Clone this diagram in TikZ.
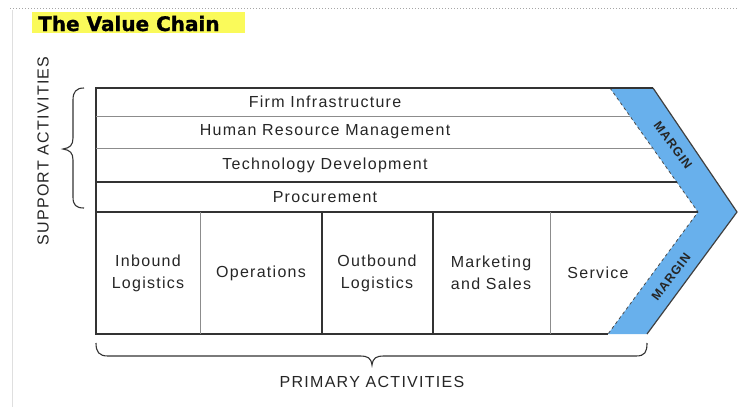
\documentclass[tikz,border=0pt]{standalone}
\usepackage{fontspec}
\setmainfont{Liberation Sans}
\newfontfamily\labfont{Liberation Sans}[LetterSpace=8]
\newfontfamily\titlefont{DejaVu Sans}[BoldFeatures={FakeBold=1}]
\definecolor{marginblue}{RGB}{104,176,236}
\definecolor{hilite}{RGB}{250,250,90}
\begin{document}
\begin{tikzpicture}[x=1pt,y=-1pt,
  lab/.style={font=\labfont\fontsize{16}{22}\selectfont, align=center, inner sep=0pt, text=black!85},
  strong/.style={draw=black!80, line width=1.3pt},
  weak/.style={draw=black!45, line width=0.8pt},
  margintext/.style={font=\labfont\bfseries\fontsize{12.5}{14}\selectfont, text=black!85, inner sep=0pt},
  bracestyle/.style={draw=black!80, line width=1.1pt}]
\useasboundingbox (0,0) rectangle (738,407);
\fill[white] (0,0) rectangle (738,407);
% page edges
\draw[gray!25, line width=0.8pt] (12,10) -- (12,407);
\draw[gray!70, dotted, line width=1pt] (10,8) -- (738,8);
% title
\fill[hilite] (32,12) rectangle (245,33);
\node[font=\titlefont\bfseries\fontsize{20}{24}\selectfont, anchor=base west, inner sep=0pt] (title) at (38,31) {The Value Chain};
% margin band
\fill[marginblue] (610,88) -- (653,88) -- (737,212) -- (647,334) -- (608,334) -- (698,212) -- cycle;
\draw[black!70, dashed, line width=0.8pt] (610,88) -- (698,212) -- (608,334);
\draw[black!75, line width=1.2pt] (653,88) -- (737,212) -- (647,334);
% frame
\draw[strong] (653,88) -- (96,88) -- (96,334) -- (608,334);
\draw[weak] (96,116) -- (629.9,116);
\draw[weak] (96,148) -- (652.6,148);
\draw[strong] (96,182) -- (676.7,182);
\draw[strong] (96,212) -- (698,212);
\draw[weak] (200,212) -- (200,334);
\draw[strong] (322,212) -- (322,334);
\draw[strong] (433,212) -- (433,334);
\draw[weak] (550,212) -- (550,334);
% support activities
\node[lab] (firm) at (325,102) {Firm Infrastructure};
\node[lab] (hrm) at (325,132) {Human Resource Management};
\node[lab] (tech) at (325,165) {Technology Development};
\node[lab] (proc) at (325,197) {Procurement};
% primary activities
\node[lab] (inb) at (148,273) {Inbound\\Logistics};
\node[lab] (ops) at (261,273) {Operations};
\node[lab] (outb) at (377,273) {Outbound\\Logistics};
\node[lab] (mkt) at (491,273) {Marketing\\and Sales};
\node[lab] (serv) at (598,273) {Service};
% margin labels
\node[margintext, rotate=-54] (m1) at (673,145) {MARGIN};
\node[margintext, rotate=53] (m2) at (671,277) {MARGIN};
% braces
\draw[bracestyle] (84,88) .. controls (76,88) and (73,92) .. (73,100) -- (73,138)
  .. controls (73,145) and (70,148) .. (63,149) .. controls (70,150) and (73,153) .. (73,160)
  -- (73,197) .. controls (73,205) and (76,208) .. (84,208);
\draw[bracestyle] (96,343) .. controls (96,352) and (99,356) .. (108,356) -- (360,356)
  .. controls (368,356) and (371,358) .. (372,365) .. controls (373,358) and (376,356) .. (384,356)
  -- (636,356) .. controls (645,356) and (647,352) .. (647,343);
\node[lab, rotate=90] (support) at (43,151) {SUPPORT ACTIVITIES};
\node[lab] (primary) at (372,382) {PRIMARY ACTIVITIES};
\end{tikzpicture}
\end{document}
